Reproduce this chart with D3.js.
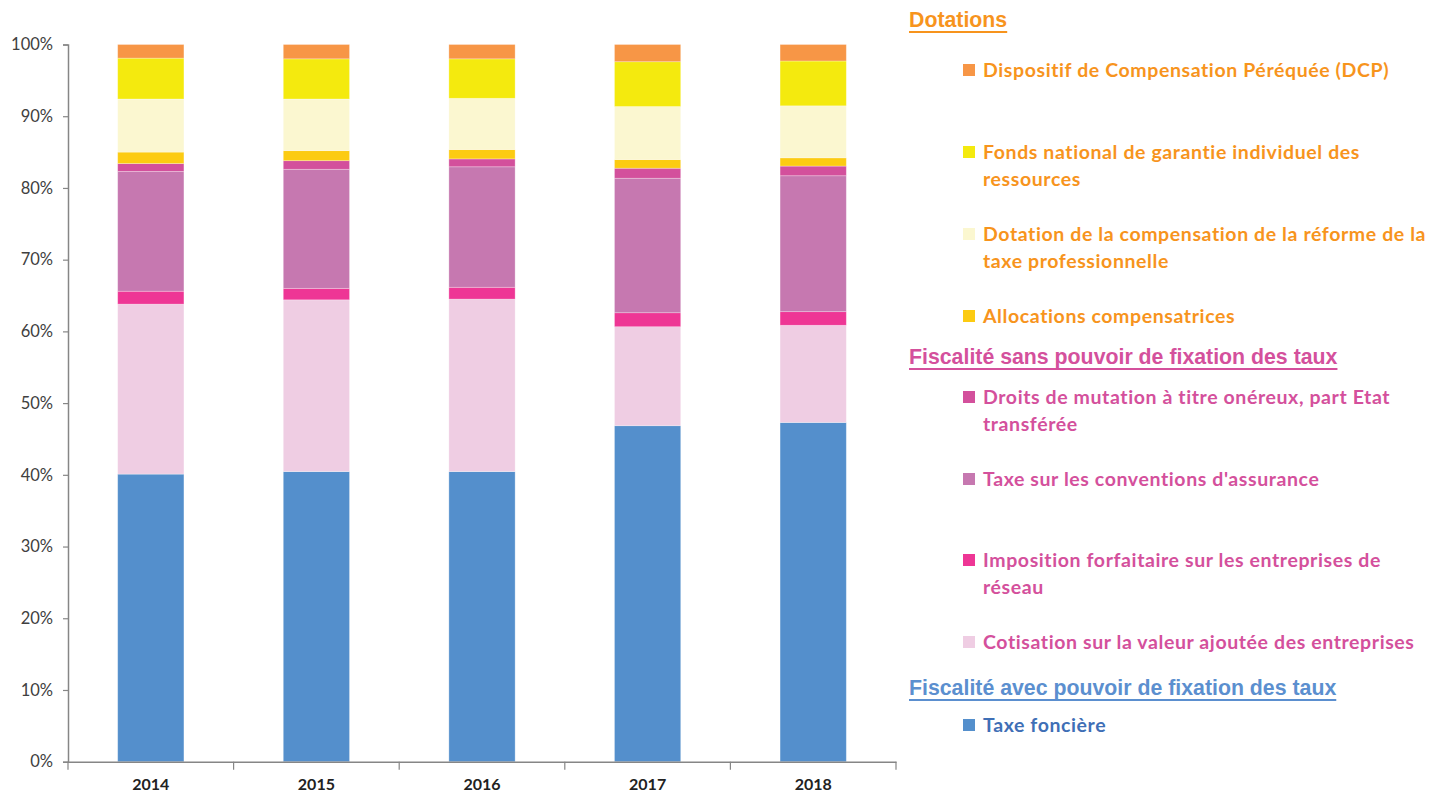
<!DOCTYPE html>
<html lang="fr">
<head>
<meta charset="UTF-8">
<title>Ressources</title>
<script src="https://d3js.org/d3.v7.min.js"></script>
<style>
  body { margin: 0; background: #fff; }
  svg { display: block; }
  .tick text { font-family: Lato, "Open Sans", sans-serif; }
</style>
</head>
<body>
<svg width="1455" height="796"></svg>
<script>
// --- data (shares, %) ---
const years = ["2014", "2015", "2016", "2017", "2018"];
const taxeFonciere = [40.1, 40.45, 40.45, 46.85, 47.3];
const cvae         = [23.7, 23.95, 24.05, 13.8, 13.55];
const ifer         = [1.8, 1.6, 1.65, 1.95, 1.9];
const tsca         = [16.7, 16.6, 16.8, 18.75, 18.95];
const dmto         = [1.1, 1.2, 1.1, 1.4, 1.35];
const allocations  = [1.6, 1.4, 1.3, 1.2, 1.15];
const dcrtp        = [7.4, 7.2, 7.15, 7.4, 7.25];
const fngir        = [5.7, 5.6, 5.5, 6.25, 6.25];
const dcp          = [1.9, 2.0, 2.0, 2.4, 2.3];
const yTicks = [0, 10, 20, 30, 40, 50, 60, 70, 80, 90, 100];

const series = [
  {key: "tf",    name: "Taxe foncière", values: taxeFonciere, color: "#548fcc"},
  {key: "cvae",  name: "Cotisation sur la valeur ajoutée des entreprises", values: cvae, color: "#efcde3"},
  {key: "ifer",  name: "Imposition forfaitaire sur les entreprises de réseau", values: ifer, color: "#ee3695"},
  {key: "tsca",  name: "Taxe sur les conventions d'assurance", values: tsca, color: "#c678b0"},
  {key: "dmto",  name: "Droits de mutation à titre onéreux, part Etat transférée", values: dmto, color: "#d3509c"},
  {key: "alloc", name: "Allocations compensatrices", values: allocations, color: "#fccb12"},
  {key: "dcrtp", name: "Dotation de la compensation de la réforme de la taxe professionnelle", values: dcrtp, color: "#fbf7d0"},
  {key: "fngir", name: "Fonds national de garantie individuel des ressources", values: fngir, color: "#f4ea0e"},
  {key: "dcp",   name: "Dispositif de Compensation Péréquée (DCP)", values: dcp, color: "#f79646"}
];

// legend groups, top to bottom
const legendGroups = [
  {title: "Dotations", color: "#f7941d", textColor: "#f7941d",
   items: [["dcp", ["Dispositif de Compensation Péréquée (DCP)"]],
           ["fngir", ["Fonds national de garantie individuel des", "ressources"]],
           ["dcrtp", ["Dotation de la compensation de la réforme de la", "taxe professionnelle"]],
           ["alloc", ["Allocations compensatrices"]]]},
  {title: "Fiscalité sans pouvoir de fixation des taux", color: "#d4509c", textColor: "#d4509c",
   items: [["dmto", ["Droits de mutation à titre onéreux, part Etat", "transférée"]],
           ["tsca", ["Taxe sur les conventions d'assurance"]],
           ["ifer", ["Imposition forfaitaire sur les entreprises de", "réseau"]],
           ["cvae", ["Cotisation sur la valeur ajoutée des entreprises"]]]},
  {title: "Fiscalité avec pouvoir de fixation des taux", color: "#5b8fcf", textColor: "#3f6fb6",
   items: [["tf", ["Taxe foncière"]]]}
];

const svg = d3.select("svg");
const margin = {left: 68, right: 559, top: 44.5, bottom: 34};
const width = 1455 - margin.left - margin.right;
const height = 796 - margin.top - margin.bottom - 0.3;
const g = svg.append("g").attr("transform", `translate(${margin.left},${margin.top})`);

const table = years.map((yr, i) => {
  const row = {year: yr};
  series.forEach(s => row[s.key] = s.values[i]);
  return row;
});
const stacked = d3.stack().keys(series.map(s => s.key))(table);
const colorOf = Object.fromEntries(series.map(s => [s.key, s.color]));

const x = d3.scaleBand().domain(years).range([0, width]).paddingInner(0.6).paddingOuter(0.3);
const y = d3.scaleLinear().domain([0, 100]).range([height, 0]);

// y axis
const yAxis = g.append("g")
  .call(d3.axisLeft(y).tickValues(yTicks).tickFormat(d => d + "%").tickSize(5).tickPadding(10));
yAxis.select(".domain").attr("stroke", "#868686").attr("stroke-width", 1.5);
yAxis.selectAll(".tick line").attr("stroke", "#868686").attr("stroke-width", 1.2);
yAxis.selectAll(".tick text").attr("font-size", 16.5).attr("fill", "#404040");

// bars
g.selectAll(".layer")
  .data(stacked)
  .join("g")
  .attr("class", "layer")
  .attr("fill", d => colorOf[d.key])
  .selectAll("rect")
  .data(d => d)
  .join("rect")
  .attr("x", d => x(d.data.year))
  .attr("width", x.bandwidth())
  .attr("y", d => y(d[1]))
  .attr("height", d => y(d[0]) - y(d[1]))
  .attr("stroke", "#fff")
  .attr("stroke-opacity", 0.35)
  .attr("stroke-width", 0.8);

// x axis
const xAxis = g.append("g")
  .attr("transform", `translate(0,${height})`)
  .call(d3.axisBottom(x).tickSize(0).tickPadding(17));
xAxis.select(".domain").attr("stroke", "#868686").attr("stroke-width", 1.5);
xAxis.selectAll(".tick text").attr("font-size", 16).attr("font-weight", "bold").attr("fill", "#222");
// category separators
const seps = d3.range(years.length + 1).map(i => i * width / years.length);
xAxis.selectAll(".sep")
  .data(seps)
  .join("line")
  .attr("class", "sep")
  .attr("x1", d => d).attr("x2", d => d)
  .attr("y1", 0).attr("y2", 8)
  .attr("stroke", "#868686").attr("stroke-width", 1.2);

// legend
const leg = svg.append("g");
const headerX = 909, swatchX = 963, textX = 983;
const lineH = 27.7;
let cy = 20;
const itemGaps = {dcp: 0, fngir: 82, dcrtp: 82, alloc: 82, dmto: 40, tsca: 82, ifer: 81, cvae: 82, tf: 37};
legendGroups.forEach((grp, gi) => {
  const head = leg.append("text")
    .attr("x", headerX).attr("y", cy + 7)
    .attr("font-family", "'Liberation Sans', Arial, sans-serif")
    .attr("font-weight", "bold").attr("font-size", 21.3)
    .attr("fill", grp.color)
    .text(grp.title);
  const w = head.node().getComputedTextLength();
  leg.append("rect")
    .attr("x", headerX).attr("y", cy + 11).attr("width", w).attr("height", 2)
    .attr("fill", grp.color);
  let iy = cy + (gi === 0 ? 50 : gi === 1 ? 40 : 37);
  grp.items.forEach((it, ii) => {
    if (ii > 0) iy += itemGaps[it[0]];
    leg.append("rect")
      .attr("x", swatchX).attr("y", iy - 6).attr("width", 12).attr("height", 12)
      .attr("fill", colorOf[it[0]]);
    it[1].forEach((ln, li) => {
      leg.append("text")
        .attr("x", textX).attr("y", iy + 6.5 + li * lineH)
        .attr("font-family", "Lato, 'Open Sans', sans-serif")
        .attr("font-weight", "bold").attr("font-size", 19.5)
        .attr("letter-spacing", 0.6)
        .attr("fill", grp.textColor)
        .text(ln);
    });
  });
  cy = gi === 0 ? 357 : 688;
});
</script>
</body>
</html>
